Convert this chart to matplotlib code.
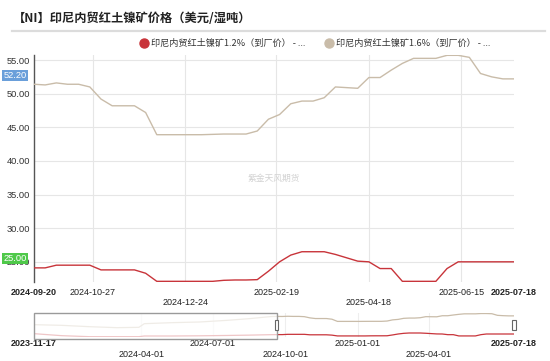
import matplotlib
matplotlib.use('Agg')
import matplotlib.pyplot as plt
import matplotlib.dates as mdates
import matplotlib.transforms as mtransforms
from matplotlib.patches import Rectangle
from matplotlib.lines import Line2D
import pandas as pd

plt.rcParams['font.family'] = ['Liberation Sans', 'Noto Sans CJK SC', 'DejaVu Sans']

# weekly data, 2024-09-20 .. 2025-07-18
dates = pd.date_range('2024-09-20', '2025-07-18', freq='7D')
ore_16 = [51.4, 51.3, 51.6, 51.4, 51.4, 51.0, 49.2, 48.2, 48.2, 48.2, 47.2,
          43.9, 43.9, 43.9, 43.9, 43.9, 43.95, 44.0, 44.0, 44.0, 44.45, 46.2,
          46.9, 48.5, 48.9, 48.9, 49.4, 51.0, 50.9, 50.8, 52.4, 52.4, 53.5,
          54.5, 55.25, 55.25, 55.25, 55.7, 55.7, 55.4, 53.0, 52.5, 52.2, 52.2]
ore_12 = [24.1, 24.1, 24.5, 24.5, 24.5, 24.5, 23.8, 23.8, 23.8, 23.8, 23.3,
          22.1, 22.1, 22.1, 22.1, 22.1, 22.1, 22.25, 22.3, 22.3, 22.35, 23.6,
          25.0, 26.0, 26.5, 26.5, 26.5, 26.1, 25.6, 25.1, 25.0, 24.0, 24.0,
          22.1, 22.1, 22.1, 22.1, 24.0, 25.0, 25.0, 25.0, 25.0, 25.0, 25.0]

# earlier history only shown in the navigator
hist_dates = pd.to_datetime(['2023-11-17', '2023-12-22', '2024-01-26', '2024-03-01',
                             '2024-03-29', '2024-04-05', '2024-05-10', '2024-06-14',
                             '2024-07-19', '2024-08-16', '2024-09-13'])
hist_16 = [39.0, 38.0, 36.0, 34.5, 35.0, 40.5, 42.0, 43.0, 45.5, 48.0, 51.2]
hist_12 = [25.5, 22.5, 21.0, 21.0, 21.0, 22.0, 22.0, 22.3, 22.8, 23.3, 24.0]

title = '【NI】印尼内贸红土镍矿价格（美元/湿吨）'
names = ['印尼内贸红土镍矿1.2%（到厂价） - ...', '印尼内贸红土镍矿1.6%（到厂价） - ...']
colors = ['#c8343a', '#c9bca9']

xt_row1 = ['2024-09-20', '2024-10-27', '2025-02-19', '2025-06-15', '2025-07-18']
xt_row2 = ['2024-12-24', '2025-04-18']
nav_row1 = ['2023-11-17', '2024-07-01', '2025-01-01', '2025-07-18']
nav_row2 = ['2024-04-01', '2024-10-01', '2025-04-01']
bold_ticks = ['2024-09-20', '2025-07-18', '2023-11-17']
yticks = [25, 30, 35, 40, 45, 50, 55]

W, H = 550, 361
fig = plt.figure(figsize=(W / 100, H / 100), dpi=100)

# title + separator
fig.text(13 / W, 1 - 19 / H, title, fontsize=8.8, fontweight='bold', color='#222',
         va='center', ha='left', family=['Noto Sans CJK SC'])
fig.add_artist(Line2D([12 / W, 545 / W], [1 - 31 / H] * 2, color='#dcdcdc', lw=1.6))

# legend
for cx, tx, c, n in [(144, 151, colors[0], names[0]), (329, 336, colors[1], names[1])]:
    fig.add_artist(Line2D([cx / W], [1 - 43 / H], marker='o', ms=6.5, color=c, lw=0,
                          transform=fig.transFigure))
    fig.text(tx / W, 1 - 43 / H, n, fontsize=6.6, color='#333', va='center',
             family=['Noto Sans CJK SC'])

# main chart
ax = fig.add_axes([34 / W, 1 - 282 / H, 480 / W, 227 / H])
ax.plot(dates, ore_16, color=colors[1], lw=1.0, zorder=3)
ax.plot(dates, ore_12, color=colors[0], lw=1.0, zorder=3)
ax.set_xlim(dates[0], dates[-1])
ax.set_ylim(22.0, 55.75)
ax.set_yticks(yticks)
ax.set_yticklabels([f'{v:.2f}' for v in yticks], fontsize=6.7, color='#333')
ax.tick_params(axis='y', length=0, pad=3)
ax.tick_params(axis='x', length=0, labelbottom=False)
grid_dates = pd.to_datetime(xt_row1[1:-1] + xt_row2)
ax.set_xticks(grid_dates)
ax.grid(True, color='#e6e6e6', lw=0.8)
for s in ['top', 'right', 'bottom']:
    ax.spines[s].set_visible(False)
ax.spines['left'].set_color('#555')
ax.spines['left'].set_linewidth(1.0)

trans = mtransforms.blended_transform_factory(ax.transData, ax.transAxes)
for lbl in xt_row1:
    ax.text(pd.Timestamp(lbl), -0.045, lbl, transform=trans, ha='center', va='center',
            fontsize=6.5, color='#222', fontweight='bold' if lbl in bold_ticks else 'normal')
for lbl in xt_row2:
    ax.text(pd.Timestamp(lbl), -0.09, lbl, transform=trans, ha='center', va='center',
            fontsize=6.5, color='#222')

# last-value badges on the y axis
ytrans = mtransforms.blended_transform_factory(ax.transAxes, ax.transData)
for val, bg in [(ore_16[-1], '#6a9fda'), (ore_12[-1], '#4fc94a')]:
    ax.annotate(f'{val:.2f}', xy=(0, val), xycoords=ytrans, xytext=(-5.2, 2.6),
                textcoords='offset points', ha='right', va='center', fontsize=6.7,
                color='white', annotation_clip=False, zorder=6,
                bbox=dict(boxstyle='square,pad=0.12', fc=bg, ec='none'))

# watermark
ax.text(0.5, 0.458, '紫金天风期货', transform=ax.transAxes, ha='center', va='center',
        fontsize=6.3, color='#d2d2d2', family=['Noto Sans CJK SC'])

# navigator
nav = fig.add_axes([34 / W, 1 - 337 / H, 480 / W, 24 / H])
all_dates = list(hist_dates) + list(dates)
nav.plot(all_dates, hist_16 + ore_16, color=colors[1], lw=0.9)
nav.plot(all_dates, hist_12 + ore_12, color=colors[0], lw=0.9)
nav.set_xlim(hist_dates[0], dates[-1])
nav.set_ylim(20.5, 56.5)
nav.set_xticks(pd.to_datetime(nav_row1[1:-1] + nav_row2))
nav.grid(True, axis='x', color='#eeeeee', lw=0.8)
nav.tick_params(length=0, labelbottom=False, labelleft=False)
for s in nav.spines.values():
    s.set_visible(False)

ntrans = mtransforms.blended_transform_factory(nav.transData, nav.transAxes)
x0 = mdates.date2num(hist_dates[0])
x1 = mdates.date2num(dates[0])
nav.add_patch(Rectangle((x0, -0.08), x1 - x0, 1.08, transform=ntrans, fc='white',
                        alpha=0.72, ec='none', zorder=5, clip_on=False))
nav.add_patch(Rectangle((x0, -0.08), x1 - x0, 1.08, transform=ntrans, fc='none',
                        ec='#9a9a9a', lw=1.0, zorder=6, clip_on=False))
day_px = (mdates.date2num(dates[-1]) - x0) / 480
for hx in [x1, mdates.date2num(dates[-1])]:
    nav.add_patch(Rectangle((hx - 1.6 * day_px, 0.28), 3.2 * day_px, 0.42, transform=ntrans,
                            fc='white', ec='#666', lw=0.8, zorder=7, clip_on=False))

for lbl in nav_row1:
    nav.text(pd.Timestamp(lbl), -0.28, lbl, transform=ntrans, ha='center', va='center',
             fontsize=6.5, color='#222', fontweight='bold' if lbl in bold_ticks else 'normal')
for lbl in nav_row2:
    nav.text(pd.Timestamp(lbl), -0.72, lbl, transform=ntrans, ha='center', va='center',
             fontsize=6.5, color='#222')

fig.savefig('out.png', dpi=100)
